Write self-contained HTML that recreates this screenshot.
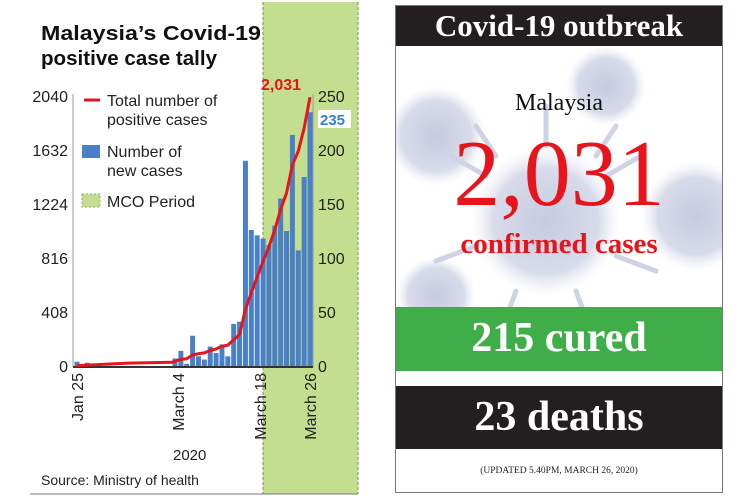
<!DOCTYPE html>
<html><head><meta charset="utf-8"><style>
body{margin:0;width:747px;height:498px;background:#fff;overflow:hidden;position:relative;font-family:"Liberation Sans",sans-serif}
.serif{font-family:"Liberation Serif",serif;font-weight:bold}
</style></head><body>
<svg id="chart" width="747" height="498" style="position:absolute;left:0;top:0">
<rect x="263" y="2" width="95" height="492" fill="#c3de8f"/>
<line x1="263" y1="2" x2="263" y2="494" stroke="#6a9a4a" stroke-dasharray="3,2" stroke-width="1"/>
<line x1="358" y1="2" x2="358" y2="494" stroke="#6a9a4a" stroke-dasharray="3,2" stroke-width="1"/>
<line x1="30" y1="494" x2="358" y2="494" stroke="#777" stroke-width="1"/>
<text x="41" y="40" font-size="20" font-weight="bold" fill="#111" textLength="220" lengthAdjust="spacingAndGlyphs">Malaysia’s Covid-19</text>
<text x="41" y="65" font-size="20" font-weight="bold" fill="#111" textLength="176" lengthAdjust="spacingAndGlyphs">positive case tally</text>
<g id="bars"></g>
<g id="axes"></g>
<path id="line" fill="none" stroke="#e8141b" stroke-width="3" stroke-linejoin="round"/>
<g>
<line x1="84" y1="100" x2="100" y2="100" stroke="#e8141b" stroke-width="3"/>
<text x="107" y="106" font-size="16" fill="#222">Total number of</text>
<text x="107" y="125" font-size="16" fill="#222">positive cases</text>
<rect x="82" y="145" width="18" height="13" fill="#4a80c8"/>
<text x="107" y="157" font-size="16" fill="#222">Number of</text>
<text x="107" y="176" font-size="16" fill="#222">new cases</text>
<rect x="82" y="194" width="18" height="13" fill="#c3de8f" stroke="#8ab06a" stroke-dasharray="2,2"/>
<text x="107" y="207" font-size="16" fill="#222">MCO Period</text>
</g>
<text x="261" y="90" font-size="16" font-weight="bold" fill="#e8141b">2,031</text>
<rect x="318" y="110" width="33" height="18" fill="#fff"/>
<text x="320" y="125" font-size="15" font-weight="bold" fill="#3b7dd0">235</text>
<text x="173" y="460" font-size="15" fill="#222">2020</text>
<text x="41" y="485" font-size="14" fill="#222">Source: Ministry of health</text>
</svg>

<div style="position:absolute;left:395px;top:5px;width:328px;height:488px;border:1px solid #777;box-sizing:border-box;overflow:hidden">
<svg width="328" height="300" style="position:absolute;left:0;top:40px">
<defs><radialGradient id="vg"><stop offset="0" stop-color="#c6cbe0"/><stop offset="0.7" stop-color="#d7dbea"/><stop offset="1" stop-color="#eef0f6" stop-opacity="0"/></radialGradient></defs>
<g stroke="#cfd3e6" stroke-width="5" stroke-linecap="round">
<circle cx="150" cy="175" r="75" fill="url(#vg)" stroke="none"/>
<circle cx="300" cy="170" r="55" fill="url(#vg)" stroke="none"/>
<circle cx="40" cy="90" r="50" fill="url(#vg)" stroke="none"/>
<circle cx="210" cy="40" r="40" fill="url(#vg)" stroke="none"/>
<circle cx="40" cy="250" r="40" fill="url(#vg)" stroke="none"/>
<line x1="150" y1="100" x2="150" y2="60"/><line x1="90" y1="130" x2="55" y2="110"/><line x1="210" y1="130" x2="245" y2="110"/>
<line x1="80" y1="200" x2="40" y2="215"/><line x1="220" y1="210" x2="260" y2="225"/><line x1="120" y1="245" x2="105" y2="285"/>
<line x1="180" y1="245" x2="195" y2="285"/><line x1="100" y1="110" x2="80" y2="80"/><line x1="200" y1="110" x2="220" y2="80"/>
</g></svg>
<div class="serif" style="position:absolute;left:0;top:0;width:100%;height:40px;background:#231f20;color:#fff;font-size:31px;text-align:center;line-height:40px">Covid-19 outbreak</div>
<div style="position:absolute;top:84px;width:100%;text-align:center;font-family:'Liberation Serif',serif;font-size:24px;color:#111">Malaysia</div>
<div style="position:absolute;top:118px;width:100%;text-align:center;font-family:'Liberation Serif',serif;font-size:94px;color:#e8141b;line-height:100px">2,031</div>
<div class="serif" style="position:absolute;top:222px;width:100%;text-align:center;font-size:29px;color:#e8141b">confirmed cases</div>
<div class="serif" style="position:absolute;left:0;top:301px;width:100%;height:64px;background:#3fae49;color:#fff;font-size:42px;text-align:center;line-height:62px">215 cured</div>
<div class="serif" style="position:absolute;left:0;top:380px;width:100%;height:63px;background:#231f20;color:#fff;font-size:42px;text-align:center;line-height:62px">23 deaths</div>
<div class="serif" style="position:absolute;top:460px;width:100%;text-align:center;font-size:9.5px;color:#222;font-weight:normal">(UPDATED 5.40PM, MARCH 26, 2020)</div>
</div>

<script>
const barDays=[0,4,38,39,40,41,42,43,44,45,46,47,48,49,50,51,52,53,54,55,56,57,58,59,60,61];
const newCases=[4,3,7,14,2,28,9,6,18,12,20,9,39,41,190,126,121,118,112,130,155,125,214,107,175,235];
const lineDays=[0,4,20,37,38,39,40,41,42,43,44,45,46,47,48,49,50,51,52,53,54,55,56,57,58,59,60,61];
const totalCases=[3,7,22,29,36,50,55,83,93,99,117,129,149,158,197,238,428,553,673,790,900,1030,1183,1306,1518,1624,1796,2031];
const leftTicks=[0,408,816,1224,1632,2040];
const rightTicks=[0,50,100,150,200,250];
const xLabels=["Jan 25","March 4","March 18","March 26"];
const xLabelDays=[0,38.5,52.5,61];
const y0=366,yTop=96;
function x(d){return d<=38?77+d*(175-77)/38:175+(d-38)*(310-175)/23;}
function yL(v){return y0-v*(y0-yTop)/2040;}
function yR(v){return y0-v*(y0-yTop)/250;}
const ns="http://www.w3.org/2000/svg";
const bars=document.getElementById('bars');
barDays.forEach((d,i)=>{const r=document.createElementNS(ns,'rect');
r.setAttribute('x',x(d)-2.5);r.setAttribute('width',5);r.setAttribute('y',yR(newCases[i]));r.setAttribute('height',y0-yR(newCases[i]));r.setAttribute('fill','#4a80c8');


bars.appendChild(r);});
document.getElementById('line').setAttribute('d',lineDays.map((d,i)=>(i?'L':'M')+x(d).toFixed(1)+','+yL(totalCases[i]).toFixed(1)).join(''));
const ax=document.getElementById('axes');
let h='<line x1="73" y1="94" x2="73" y2="367" stroke="#999"/><line x1="313" y1="94" x2="313" y2="367" stroke="#999"/><line x1="73" y1="367" x2="313" y2="367" stroke="#333" stroke-width="2"/>';
leftTicks.forEach(v=>{h+=`<text x="68" y="${yL(v)+6}" font-size="16" fill="#222" text-anchor="end">${v}</text>`;});
rightTicks.forEach(v=>{h+=`<text x="318" y="${yR(v)+6}" font-size="16" fill="#222">${v}</text>`;});
xLabels.forEach((t,i)=>{h+=`<text transform="translate(${x(xLabelDays[i])+6},373) rotate(-90)" font-size="16" fill="#222" text-anchor="end">${t}</text>`;});
ax.innerHTML=h;


</script>
</body></html>
